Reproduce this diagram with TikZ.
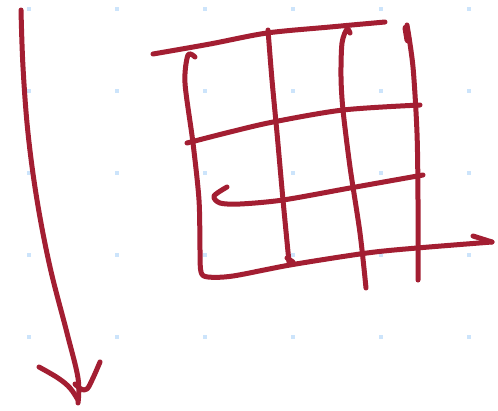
\documentclass[tikz,border=0pt]{standalone}
\usepackage{tikz}
\definecolor{ink}{RGB}{163,30,50}
\definecolor{dotc}{RGB}{204,228,251}
\tikzset{
  stroke/.style={draw=ink, line width=5pt, line cap=round, line join=round},
  griddot/.style={fill=dotc}
}
\begin{document}
\begin{tikzpicture}[x=1pt,y=-1pt]
\useasboundingbox (0,0) rectangle (498,410);
\fill[white] (0,0) rectangle (498,410);
% dotted background
\foreach \xx in {29,117,205,293,381,469}
  \foreach \yy in {9,91,173,255,337}
    \fill[griddot] (\xx-1.7,\yy-1.7) rectangle (\xx+1.7,\yy+1.7);
% big arrow on the left
\draw[stroke] plot[smooth, tension=0.6] coordinates {(21,10) (23,67) (28,133) (37,200) (50,267) (67,333) (78,378) (78,403)};
\draw[stroke] plot[smooth, tension=0.6] coordinates {(39,367) (58,378) (70,388) (78,400)};
\draw[stroke] plot[smooth, tension=0.6] coordinates {(100,362) (93,378) (87,389) (81,389) (75,384)};
% top line
\draw[stroke] plot[smooth, tension=0.5] coordinates {(153,54) (210,44) (267,33) (330,27) (385,22)};
% left vertical and bottom line with arrow
\draw[stroke] plot[smooth, tension=0.5] coordinates {(195,57) (188,55) (185,83) (193,143) (199,200) (200,250) (201,272) (208,277) (233,276) (290,265) (367,253) (417,248) (492,242)};
\draw[stroke] (473,236) -- (492,242);
% second vertical
\draw[stroke] plot[smooth, tension=0.5] coordinates {(268,30) (272,80) (277,133) (283,200) (289,262)};
\draw[stroke] (287,258) -- (293,262);
% third vertical with hook
\draw[stroke] plot[smooth, tension=0.5] coordinates {(350,33) (347,29) (342,43) (341,77) (343,110) (350,167) (360,233) (366,288)};
% fourth vertical
\draw[stroke] plot[smooth, tension=0.5] coordinates {(407,25) (413,67) (417,133) (418,200) (418,280)};
\draw[stroke, line width=7pt] (406,28) -- (408,40);
% horizontal 1
\draw[stroke] plot[smooth, tension=0.5] coordinates {(187,143) (230,132) (273,122) (343,110) (420,105)};
% horizontal 2 with left hook
\draw[stroke] plot[smooth, tension=0.5] coordinates {(227,187) (214,196) (220,203) (240,204) (283,200) (350,188) (423,175)};
\end{tikzpicture}
\end{document}
